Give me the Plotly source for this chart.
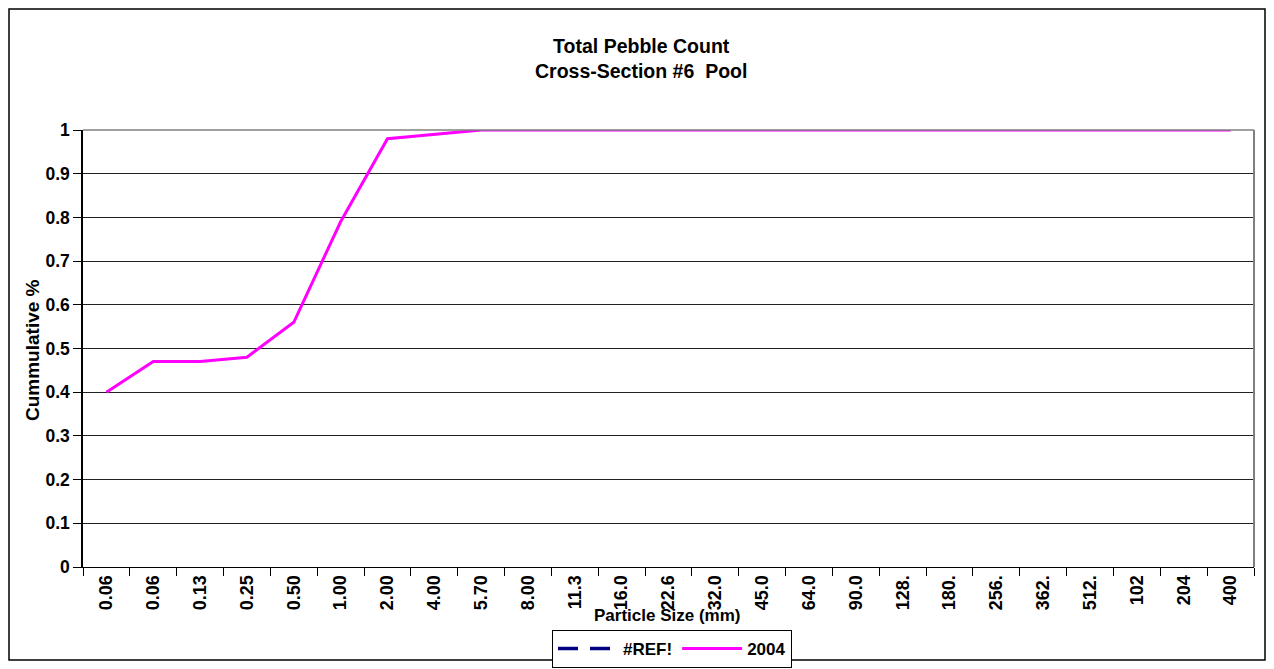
import plotly.graph_objects as go

# Particle size classes (mm) as printed on the category axis
size_labels = ["0.06", "0.06", "0.13", "0.25", "0.50", "1.00", "2.00", "4.00",
               "5.70", "8.00", "11.3", "16.0", "22.6", "32.0", "45.0", "64.0",
               "90.0", "128.", "180.", "256.", "362.", "512.", "102", "204", "400"]

# Cumulative fraction finer, 2004 survey
cum_2004 = [0.40, 0.47, 0.47, 0.48, 0.56, 0.79, 0.98, 0.99,
            1.00, 1.00, 1.00, 1.00, 1.00, 1.00, 1.00, 1.00,
            1.00, 1.00, 1.00, 1.00, 1.00, 1.00, 1.00, 1.00, 1.00]

# Broken reference series (no values)
cum_ref = [None] * len(size_labels)

# repeated labels need unique category keys; spaces keep them apart
cat_keys = [lab + " " * i for i, lab in enumerate(size_labels)]

FONT = "Liberation Sans, Arial, sans-serif"

fig = go.Figure()
fig.add_trace(go.Scatter(x=cat_keys, y=cum_ref, name="<b>#REF!</b>", mode="lines",
                         line=dict(color="#000080", width=3.5, dash="20px,12px")))
fig.add_trace(go.Scatter(x=cat_keys, y=cum_2004, name="<b>2004</b>", mode="lines",
                         line=dict(color="#FF00FF", width=3)))

L, R, T, B = 83, 20, 130, 102
W, H = 1274, 669
pw, ph = W - L - R, H - T - B

def px(x):
    return (x - L) / pw

def py(y):
    return (H - B - y) / ph

y_ticks = [0, 0.1, 0.2, 0.3, 0.4, 0.5, 0.6, 0.7, 0.8, 0.9, 1]
y_text = ["<b>%g</b>" % v for v in y_ticks]

fig.update_layout(
    width=W, height=H,
    margin=dict(l=L, r=R, t=T, b=B, autoexpand=False),
    paper_bgcolor="white", plot_bgcolor="white",
    font=dict(family=FONT, size=17, color="black"),
    showlegend=True,
    legend=dict(orientation="h", x=px(672), xanchor="center", y=py(630), yanchor="top",
                bordercolor="black", borderwidth=1, bgcolor="white",
                font=dict(family=FONT, size=17),
                itemwidth=60, tracegroupgap=0),
    xaxis=dict(type="category", categoryorder="array", categoryarray=cat_keys,
               range=[-0.5, len(cat_keys) - 0.5],
               tickvals=cat_keys, ticktext=["<b>%s</b>" % s for s in size_labels],
               showgrid=False, tickangle=-90, tickson="boundaries",
               ticks="outside", ticklen=8, tickcolor="black",
               tickfont=dict(family=FONT, size=18),
               showline=True, linecolor="black", linewidth=1,
               zeroline=False, fixedrange=True),
    yaxis=dict(range=[0, 1], showgrid=True, gridcolor="#222222", gridwidth=1,
               ticks="outside", ticklen=8, tickcolor="black",
               tickvals=y_ticks, ticktext=y_text,
               tickfont=dict(family=FONT, size=17.5),
               showline=True, linecolor="black", linewidth=1.5,
               zeroline=False, fixedrange=True),
    annotations=[
        dict(text="<b>Total Pebble Count</b><br><b>Cross-Section #6  Pool</b>",
             xref="paper", yref="paper", x=px(641), y=py(58), xanchor="center", yanchor="middle",
             showarrow=False, font=dict(family=FONT, size=19.5)),
        dict(text="<b>Particle Size (mm)</b>", xref="paper", yref="paper",
             x=px(667), y=py(615), xanchor="center", yanchor="middle",
             showarrow=False, font=dict(family=FONT, size=17)),
        dict(text="<b>Cummulative %</b>", xref="paper", yref="paper",
             x=px(32), y=py(350), xanchor="center", yanchor="middle", textangle=-90,
             showarrow=False, font=dict(family=FONT, size=19)),
    ],
    shapes=[
        # outer chart frame
        dict(type="rect", xref="paper", yref="paper",
             x0=px(9), x1=px(1265), y0=py(660), y1=py(9),
             line=dict(color="black", width=1.5), fillcolor="rgba(0,0,0,0)", layer="below"),
        # plot area border on top and right
        dict(type="line", xref="paper", yref="paper", x0=0, x1=1, y0=1, y1=1,
             line=dict(color="#808080", width=1.5)),
        dict(type="line", xref="paper", yref="paper", x0=1, x1=1, y0=0, y1=1,
             line=dict(color="#808080", width=2)),
    ],
)

fig.write_html("out.html")
